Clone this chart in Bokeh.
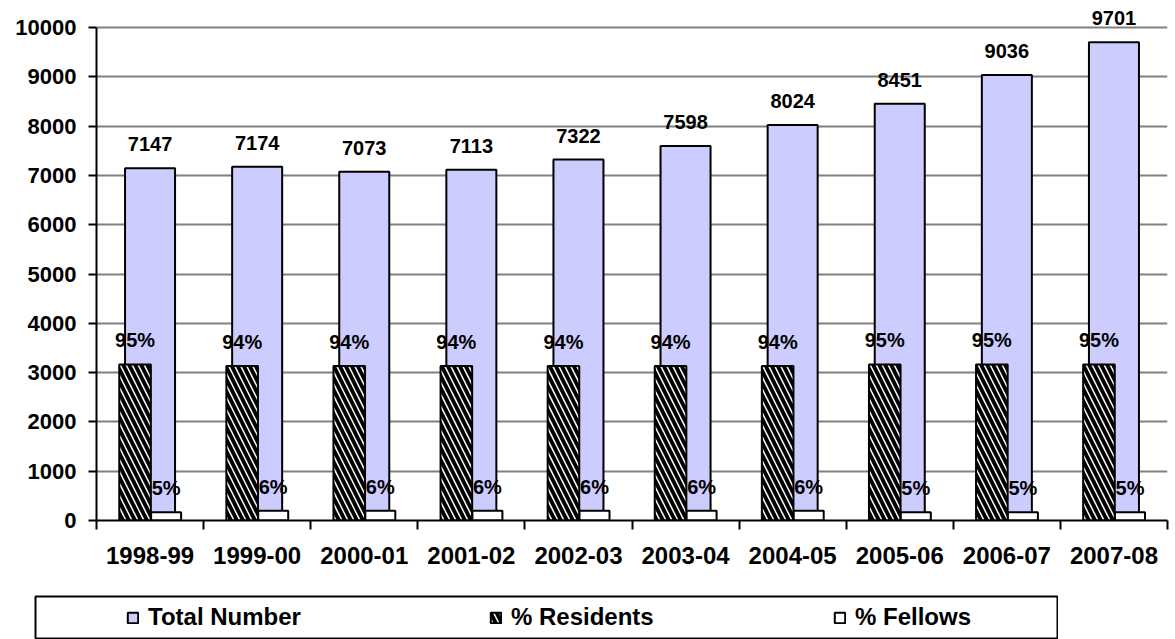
from bokeh.plotting import figure
from bokeh.models import (ColumnDataSource, Range1d, FixedTicker, LabelSet,
                          Legend, LegendItem, Spacer)
from bokeh.layouts import column, row
from bokeh.core.properties import value
from bokeh.embed import file_html
from bokeh.resources import INLINE

# ---- data ----
years = ["1998-99", "1999-00", "2000-01", "2001-02", "2002-03",
         "2003-04", "2004-05", "2005-06", "2006-07", "2007-08"]
total_number = [7147, 7174, 7073, 7113, 7322, 7598, 8024, 8451, 9036, 9701]
residents_pct = [95, 94, 94, 94, 94, 94, 94, 95, 95, 95]
fellows_pct = [5, 6, 6, 6, 6, 6, 6, 5, 5, 5]
y_ticks = [0, 1000, 2000, 3000, 4000, 5000, 6000, 7000, 8000, 9000, 10000]
legend_labels = ["Total Number", "% Residents", "% Fellows"]

FONT = "Liberation Sans"
RES_OFF, FEL_OFF = -0.14, 0.15
Y_TOP = 10000
Y_MAX = Y_TOP * 520 / 493      # room above the top gridline for the value labels
PCT_TOP = 300                  # hidden secondary scale for the percentage bars

pos = [i + 0.5 for i in range(len(years))]
src = ColumnDataSource(dict(
    x=pos,
    x_res=[v + RES_OFF for v in pos],
    x_fel=[v + FEL_OFF for v in pos],
    total=total_number,
    res=residents_pct,
    fel=fellows_pct,
    total_lbl=[str(v) for v in total_number],
    res_lbl=[f"{v}%" for v in residents_pct],
    fel_lbl=[f"{v}%" for v in fellows_pct],
))

TOTAL_STYLE = dict(fill_color="#CCCCFF", line_color="black", line_width=2)
RES_STYLE = dict(fill_color="black", hatch_pattern="\\", hatch_color="white",
                 hatch_weight=1.5, hatch_scale=12, line_color="black", line_width=2)
FEL_STYLE = dict(fill_color="white", line_color="black", line_width=2)

p = figure(width=1175, height=595, x_range=Range1d(0, len(years)),
           y_range=Range1d(0, Y_MAX), output_backend="svg",
           toolbar_location=None, min_border_left=96, min_border_right=8,
           min_border_top=0, min_border_bottom=75)
p.extra_y_ranges = {"pct": Range1d(0, PCT_TOP * Y_MAX / Y_TOP)}
p.outline_line_color = None
p.background_fill_color = "white"
p.border_fill_color = "white"

p.vbar(x="x", top="total", width=0.467, source=src, **TOTAL_STYLE)
p.vbar(x="x_res", top="res", width=0.295, source=src, y_range_name="pct", **RES_STYLE)
p.vbar(x="x_fel", top="fel", width=0.28, source=src, y_range_name="pct", **FEL_STYLE)

lbl_kw = dict(source=src, text_align="center", text_baseline="middle",
              y_offset=24, text_font=value(FONT), text_font_style="bold",
              text_font_size="20px", text_color="black")
p.add_layout(LabelSet(x="x", y="total", text="total_lbl", **lbl_kw))
p.add_layout(LabelSet(x="x_res", y="res", text="res_lbl", y_range_name="pct", **lbl_kw))
p.add_layout(LabelSet(x="x_fel", y="fel", text="fel_lbl", y_range_name="pct", **lbl_kw))

# axes
p.xgrid.visible = False
p.ygrid.ticker = FixedTicker(ticks=y_ticks)
p.ygrid.grid_line_color = "#808080"
p.ygrid.grid_line_width = 2

xa = p.xaxis[0]
xa.ticker = FixedTicker(ticks=pos, minor_ticks=list(range(len(years) + 1)))
xa.major_label_overrides = {pos[i]: years[i] for i in range(len(years))}
xa.major_tick_line_color = None
xa.major_tick_in = 0
xa.major_tick_out = 0
xa.minor_tick_line_color = "black"
xa.minor_tick_line_width = 2
xa.minor_tick_in = 0
xa.minor_tick_out = 9
xa.axis_line_width = 2
xa.axis_line_color = "black"
xa.major_label_standoff = 17
xa.major_label_text_font = FONT
xa.major_label_text_font_style = "bold"
xa.major_label_text_font_size = "24px"
xa.major_label_text_color = "black"

ya = p.yaxis[0]
ya.ticker = FixedTicker(ticks=y_ticks)
ya.bounds = (0, Y_TOP)
ya.minor_tick_line_color = None
ya.major_tick_in = 0
ya.major_tick_out = 8
ya.major_tick_line_width = 2
ya.major_tick_line_color = "black"
ya.axis_line_width = 2
ya.axis_line_color = "black"
ya.major_label_standoff = 12
ya.major_label_text_font = FONT
ya.major_label_text_font_style = "bold"
ya.major_label_text_font_size = "22px"
ya.major_label_text_color = "black"

# ---- legend strip (its own small figure, outlined like the boxed legend) ----
lg = figure(width=1024, height=44, x_range=Range1d(0, 1), y_range=Range1d(0, 1),
            output_backend="svg", toolbar_location=None,
            x_axis_type=None, y_axis_type=None,
            min_border_left=1, min_border_right=1, min_border_top=1, min_border_bottom=0)
lg.outline_line_color = "black"
lg.outline_line_width = 2
lg.background_fill_color = "white"
lg.border_fill_color = "white"

proxies = [
    lg.vbar(x="x", top="total", width=0.467, source=src, visible=False, **TOTAL_STYLE),
    lg.vbar(x="x", top="res", width=0.295, source=src, visible=False, **RES_STYLE),
    lg.vbar(x="x", top="fel", width=0.28, source=src, visible=False, **FEL_STYLE),
]
for label, rend, lx in zip(legend_labels, proxies, [91, 454, 798]):
    leg = Legend(items=[LegendItem(label=label, renderers=[rend])],
                 location=(lx, 8), orientation="horizontal",
                 border_line_color=None, background_fill_alpha=0,
                 inactive_fill_alpha=0,
                 padding=0, margin=0, spacing=0,
                 glyph_width=13, glyph_height=13, label_standoff=9,
                 label_text_font=FONT, label_text_font_style="bold",
                 label_text_font_size="24px", label_text_color="black")
    lg.add_layout(leg)

layout = column(p, row(Spacer(width=34, height=44), lg))
open("out.html", "w").write(file_html(layout, INLINE))
